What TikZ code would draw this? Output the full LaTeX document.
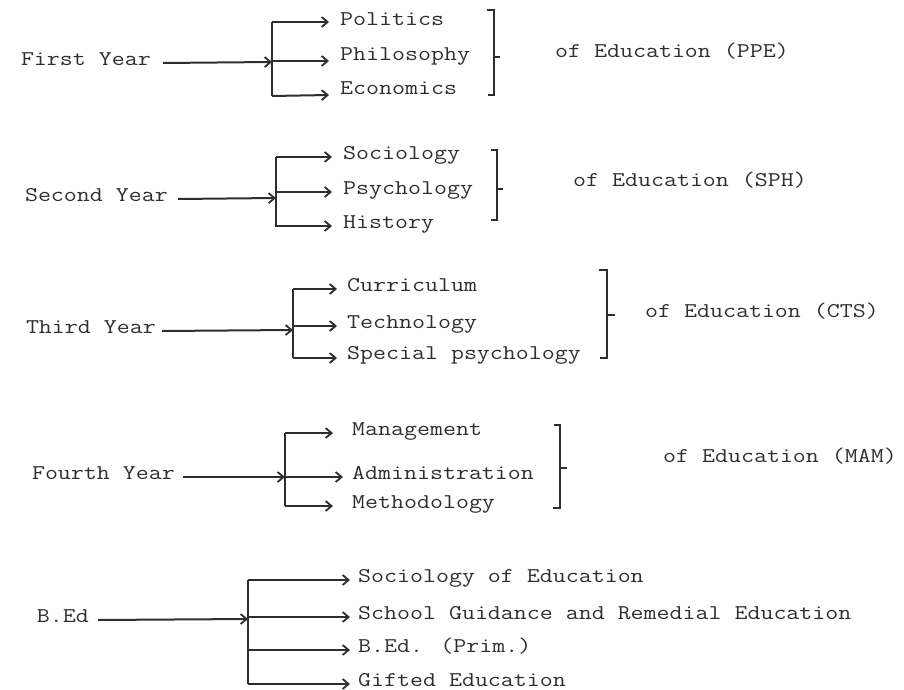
\documentclass[tikz,border=0pt]{standalone}
\usepackage{fontspec}
\usetikzlibrary{arrows.meta,calc}
\definecolor{ink}{HTML}{2E2E2E}
\newcommand\tw[1]{\scalebox{1.2}[1]{#1}}
\begin{document}
\begin{tikzpicture}[x=1pt,y=-1pt,
  txt/.style={font=\ttfamily\fontsize{21}{25}\selectfont, text=ink, inner sep=0pt},
  ln/.style={draw=ink, line width=2pt},
  vln/.style={draw=ink, line width=2.6pt},
  arr/.style={ln, -{Straight Barb[length=6pt,width=10pt,line width=1.8pt]}},
  brk/.style={draw=ink, line width=1.8pt},
  thk/.style={line width=2.8pt}]
\useasboundingbox (0,0) rectangle (904,690);

% ---------- Row 1 ----------
\node[txt, anchor=mid east] (fy) at (151,63) {\tw{First Year}};
\coordinate (j1) at (272,62);
\coordinate (j1t) at (272,22);
\coordinate (j1b) at (272,96);
\draw[vln] (j1t) -- (j1b);
\draw[arr] ([xshift=12pt]fy.mid east) -- (j1);
\node[txt, anchor=base west] (pol) at (340,26) {\tw{Politics}};
\node[txt, anchor=base west] (phi) at (340,61) {\tw{Philosophy}};
\node[txt, anchor=base west] (eco) at (340,95) {\tw{Economics}};
\draw[arr] (j1t) -- ([xshift=-11pt,yshift=4pt]pol.base west);
\draw[arr] (j1 |- 0,61) -- ([xshift=-11pt]phi.base west);
\draw[arr] (j1b) -- ([xshift=-11pt]eco.base west);
\coordinate (b1) at (494,10);
\draw[brk] ($(b1)+(-7,0)$) -- (b1) -- (494,95) -- (488,95);
\draw[brk] (494,57) -- (500,57);
\node[txt, anchor=mid west] (e1) at (555,55) {\tw{of Education (PPE)}};

% ---------- Row 2 ----------
\node[txt, anchor=mid east] (sy) at (168,199) {\tw{Second Year}};
\coordinate (j2) at (276,198);
\coordinate (j2t) at (276,157);
\coordinate (j2b) at (276,227);
\draw[vln] (j2t) -- (j2b);
\draw[arr] ([xshift=10pt]sy.mid east) -- (j2);
\node[txt, anchor=base west] (soc) at (343,159) {\tw{Sociology}};
\node[txt, anchor=base west] (psy) at (343,194) {\tw{Psychology}};
\node[txt, anchor=base west] (his) at (343,228) {\tw{History}};
\draw[arr] (j2t) -- ([xshift=-11pt,yshift=2pt]soc.base west);
\draw[arr] (j2 |- 0,192) -- ([xshift=-11pt,yshift=2pt]psy.base west);
\draw[arr] (j2 |- 0,226) -- ([xshift=-11pt,yshift=2pt]his.base west);
\draw[brk] (491,150) -- (497,150) -- (497,220) -- (491,220);
\draw[brk] (497,189) -- (503,189);
\node[txt, anchor=mid west] (e2) at (573,184) {\tw{of Education (SPH)}};

% ---------- Row 3 ----------
\node[txt, anchor=mid east] (ty) at (156,331) {\tw{Third Year}};
\coordinate (j3) at (293,330);
\coordinate (j3t) at (293,289);
\coordinate (j3b) at (293,358);
\draw[vln] (j3t) -- (j3b);
\draw[arr] ([xshift=6pt]ty.mid east) -- (j3);
\node[txt, anchor=base west] (cur) at (347,291) {\tw{Curriculum}};
\node[txt, anchor=base west] (tec) at (347,328) {\tw{Technology}};
\node[txt, anchor=base west] (spe) at (347,359) {\tw{Special psychology}};
\draw[arr] (j3t) -- ([xshift=-10pt,yshift=2pt]cur.base west);
\draw[arr] (j3 |- 0,326) -- ([xshift=-10pt,yshift=2pt]tec.base west);
\draw[arr] (j3b) -- ([xshift=-10pt,yshift=1pt]spe.base west);
\draw[brk] (599,270) -- (607,270) -- (607,358) -- (600,358);
\draw[brk] (607,315) -- (615,315);
\node[txt, anchor=mid west] (e3) at (645,315) {\tw{of Education (CTS)}};

% ---------- Row 4 ----------
\node[txt, anchor=mid east] (fo) at (175,477) {\tw{Fourth Year}};
\coordinate (j4) at (285,477);
\coordinate (j4t) at (285,433);
\coordinate (j4b) at (285,506);
\draw[vln] (j4t) -- (j4b);
\draw[arr] ([xshift=8pt]fo.mid east) -- (j4);
\node[txt, anchor=base west] (man) at (352,435) {\tw{Management}};
\node[txt, anchor=base west] (adm) at (352,479) {\tw{Administration}};
\node[txt, anchor=base west] (met) at (352,508) {\tw{Methodology}};
\draw[arr] (j4t) -- ([xshift=-19pt,yshift=2pt]man.base west);
\draw[arr] (j4) -- ([xshift=-9pt,yshift=2pt]adm.base west);
\draw[arr] (j4b) -- ([xshift=-19pt,yshift=2pt]met.base west);
\draw[brk] (554,425) -- (560,425) -- (560,508) -- (553,508);
\draw[brk] (560,468) -- (567,468);
\node[txt, anchor=mid west] (e4) at (663,460) {\tw{of Education (MAM)}};

% ---------- Row 5 ----------
\node[txt, anchor=mid east] (bed) at (89,620) {\tw{B.Ed}};
\coordinate (j5) at (248,619);
\coordinate (j5t) at (248,580);
\coordinate (j5b) at (248,684);
\draw[vln, thk] (j5t) -- (j5b);
\draw[arr] ([xshift=9pt]bed.mid east) -- (j5);
\node[txt, anchor=base west] (soe) at (358,582) {\tw{Sociology of Education}};
\node[txt, anchor=base west] (sgr) at (358,619) {\tw{School Guidance and Remedial Education}};
\node[txt, anchor=base west] (bpr) at (358,652) {\tw{B.Ed. (Prim.)}};
\node[txt, anchor=base west] (gif) at (358,686) {\tw{Gifted Education}};
\draw[arr, thk] (j5t) -- ([xshift=-8pt,yshift=2pt]soe.base west);
\draw[arr] (j5 |- 0,617) -- ([xshift=-8pt,yshift=2pt]sgr.base west);
\draw[arr, thk] (j5 |- 0,650) -- ([xshift=-8pt,yshift=2pt]bpr.base west);
\draw[arr, thk] (j5b) -- ([xshift=-8pt,yshift=2pt]gif.base west);
\end{tikzpicture}
\end{document}
